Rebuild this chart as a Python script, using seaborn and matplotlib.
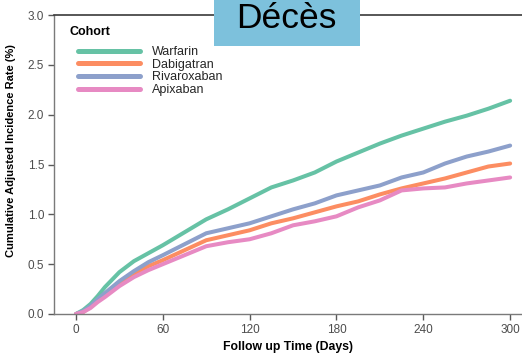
import matplotlib
matplotlib.use("Agg")
import matplotlib.pyplot as plt
import seaborn as sns
import pandas as pd
from matplotlib.patches import Rectangle

# Follow-up days at which the cumulative rates are tabulated
days = [0, 5, 10, 15, 20, 30, 40, 50, 60, 75, 90, 105, 120, 135, 150,
        165, 180, 195, 210, 225, 240, 255, 270, 285, 300]

# Cumulative adjusted incidence rate (%) per cohort
warfarin = [0.00, 0.04, 0.10, 0.18, 0.27, 0.42, 0.53, 0.61, 0.69, 0.82, 0.95,
            1.05, 1.16, 1.27, 1.34, 1.42, 1.53, 1.62, 1.71, 1.79, 1.86, 1.93,
            1.99, 2.06, 2.14]
dabigatran = [0.00, 0.02, 0.07, 0.13, 0.19, 0.31, 0.40, 0.48, 0.54, 0.64, 0.74,
              0.79, 0.84, 0.91, 0.96, 1.02, 1.08, 1.13, 1.20, 1.26, 1.31, 1.36,
              1.42, 1.48, 1.51]
rivaroxaban = [0.00, 0.03, 0.08, 0.15, 0.21, 0.33, 0.43, 0.52, 0.59, 0.70, 0.81,
               0.86, 0.91, 0.98, 1.05, 1.11, 1.19, 1.24, 1.29, 1.37, 1.42, 1.51,
               1.58, 1.63, 1.69]
apixaban = [0.00, 0.02, 0.06, 0.12, 0.17, 0.28, 0.37, 0.44, 0.50, 0.59, 0.68,
            0.72, 0.75, 0.81, 0.89, 0.93, 0.98, 1.07, 1.14, 1.24, 1.26, 1.27,
            1.31, 1.34, 1.37]

cohorts = ["Warfarin", "Dabigatran", "Rivaroxaban", "Apixaban"]
series = [warfarin, dabigatran, rivaroxaban, apixaban]

x_ticks = [0, 60, 120, 180, 240, 300]
y_ticks = [0.0, 0.5, 1.0, 1.5, 2.0, 2.5, 3.0]

df = pd.concat(
    [pd.DataFrame({"day": days, "rate": vals, "Cohort": name})
     for name, vals in zip(cohorts, series)],
    ignore_index=True,
)

sns.set_theme(style="ticks")
plt.rcParams["font.family"] = ["Liberation Sans", "DejaVu Sans"]

W, H = 522, 354
fig = plt.figure(figsize=(W / 100, H / 100), dpi=100)
ax = fig.add_axes([54 / W, 1 - 314 / H, 1 - 54 / W, (314 - 15) / H])

palette = dict(zip(cohorts, sns.color_palette("Set2", 4)))
sns.lineplot(data=df, x="day", y="rate", hue="Cohort", hue_order=cohorts,
             palette=palette, linewidth=2.9, ax=ax, legend=True)

ax.set_xlim(-15.2, 308.2)
ax.set_ylim(0, 3.0)
ax.set_xticks(x_ticks)
ax.set_xticklabels([str(t) for t in x_ticks])
ax.set_yticks(y_ticks)
ax.set_yticklabels([f"{t:.1f}" for t in y_ticks])

gray = "#595959"
ax.tick_params(axis="both", colors=gray, labelcolor="#4d4d4d", labelsize=8.5,
               length=4, width=1.0, pad=3)
for side in ["left", "bottom"]:
    ax.spines[side].set_color("#7a7a7a")
    ax.spines[side].set_linewidth(1.0)
ax.spines["top"].set_visible(True)
ax.spines["top"].set_color("#3a3a3a")
ax.spines["top"].set_linewidth(1.2)
ax.spines["right"].set_visible(False)

ax.set_xlabel("Follow up Time (Days)", fontsize=8.8, fontweight="bold",
              color="black", labelpad=4)
ax.set_ylabel("Cumulative Adjusted Incidence Rate (%)", fontsize=8,
              fontweight="bold", color="black")
ax.yaxis.set_label_coords(16 / W, 1 - 151 / H, transform=fig.transFigure)

handles, labels = ax.get_legend_handles_labels()
leg = ax.legend(handles, labels, loc="upper left",
                bbox_to_anchor=(78 / W, 1 - 46 / H),
                bbox_transform=fig.transFigure, frameon=False, fontsize=9,
                handlelength=4.95, handletextpad=0.95, labelspacing=0.05,
                borderpad=0, borderaxespad=0)
for line in leg.get_lines():
    line.set_linewidth(3.6)
fig.text(70 / W, 1 - 32 / H, "Cohort", fontsize=9, fontweight="bold",
         color="black", ha="left", va="center")

# Title banner
fig.patches.append(Rectangle((214 / W, 1 - 46 / H), 146 / W, 46 / H,
                             transform=fig.transFigure, facecolor="#7dc1dc",
                             edgecolor="none", zorder=5))
fig.text(286 / W, 1 - 28 / H, "Décès", fontsize=25.5, color="black",
         ha="center", va="baseline", zorder=6)

fig.savefig("out.png", dpi=100)
